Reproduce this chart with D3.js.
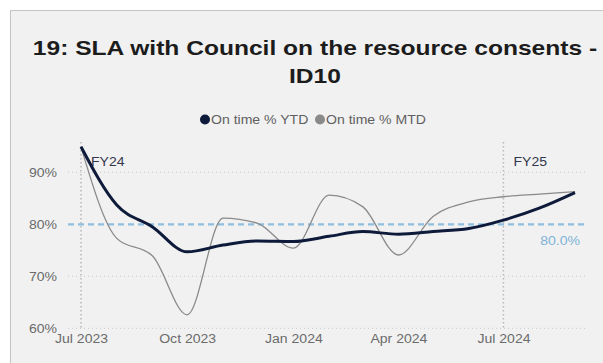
<!DOCTYPE html>
<html>
<head>
<meta charset="utf-8">
<script src="https://cdn.jsdelivr.net/npm/d3@7"></script>
<style>
  html, body { margin: 0; padding: 0; background: #ffffff; }
  svg { display: block; font-family: "Liberation Sans", Arial, sans-serif; }
</style>
</head>
<body>
<svg id="chart" width="603" height="363"></svg>
<script>
// Monthly observations, Jul 2023 – Sep 2024
const months = ["2023-07","2023-08","2023-09","2023-10","2023-11","2023-12",
                "2024-01","2024-02","2024-03","2024-04","2024-05","2024-06",
                "2024-07","2024-08","2024-09"];
const ytd = [94.9, 83.7, 79.5, 74.7, 76.0, 76.8, 76.7, 77.7, 78.6, 78.1, 78.6, 79.2, 80.8, 83.1, 86.1];
const mtd = [94.9, 77.3, 73.9, 62.6, 81.2, 80.2, 75.4, 85.6, 83.4, 74.1, 81.5, 84.3, 85.3, 85.8, 86.3];
const target = 80;
const yTicks = [60, 70, 80, 90];
const xTickLabels = ["2023-07","2023-10","2024-01","2024-04","2024-07"];
const fyMarkers = [{ date: "2023-07", label: "FY24" }, { date: "2024-07", label: "FY25" }];
const seriesNames = ["On time % YTD", "On time % MTD"];
const seriesColors = ["#0e1a3a", "#8a8a8a"];

const parse = d3.timeParse("%Y-%m");
const svg = d3.select("#chart");
const WIDEN = 1.17;

// Widen text horizontally, keeping its anchor point
function widen(sel) {
  sel.each(function () {
    const len = this.getComputedTextLength();
    d3.select(this).attr("textLength", len * WIDEN).attr("lengthAdjust", "spacingAndGlyphs");
  });
  return sel;
}

// Panel
svg.append("rect").attr("x", 10.5).attr("y", 10.5).attr("width", 620).attr("height", 400)
  .attr("fill", "#f1f1f1").attr("stroke", "#c4c4c4").attr("stroke-width", 1);

// Title
const titleLines = ["19: SLA with Council on the resource consents -", "ID10"];
const titleY = [55, 83];
titleLines.forEach((t, i) => {
  svg.append("text").attr("class", "title").attr("text-anchor", "middle")
    .attr("x", 315).attr("y", titleY[i])
    .attr("font-weight", "bold").attr("font-size", 21).attr("fill", "#1c1c1c").text(t);
});
widen(svg.selectAll("text.title"));

// Legend
const legend = svg.append("g").attr("font-size", 12).attr("fill", "#5f5f5f");
const legendX = [205, 320];
seriesNames.forEach((name, i) => {
  legend.append("circle").attr("cx", legendX[i]).attr("cy", 119.5).attr("r", 5).attr("fill", seriesColors[i]);
  legend.append("text").attr("x", legendX[i] + 6).attr("y", 124).text(name);
});
widen(legend.selectAll("text"));

// Scales
const x = d3.scaleTime()
  .domain([parse(months[0]), parse(months[months.length - 1])])
  .range([81, 575]);
const y = d3.scaleLinear().domain([60, 90]).range([328.3, 172.3]);

// Gridlines
const grid = svg.append("g");
yTicks.filter(t => t !== target).forEach(t => {
  grid.append("line").attr("x1", 68).attr("x2", 585).attr("y1", y(t)).attr("y2", y(t))
    .attr("stroke", "#c8c8c8").attr("stroke-width", 1).attr("stroke-dasharray", "1,3");
});

// Fiscal year markers
fyMarkers.forEach(m => {
  const xm = x(parse(m.date));
  svg.append("line").attr("x1", xm).attr("x2", xm).attr("y1", 142).attr("y2", 328)
    .attr("stroke", "#b8b8b8").attr("stroke-width", 1.5).attr("stroke-dasharray", "1.5,2.5");
  svg.append("text").attr("class", "fy").attr("x", xm + 10).attr("y", 166).attr("font-size", 12)
    .attr("fill", "#34384c").text(m.label);
});
widen(svg.selectAll("text.fy"));

// Y axis labels
const yAxis = d3.axisLeft(y).tickValues(yTicks).tickFormat(d => d + "%").tickSize(0).tickPadding(0);
const gy = svg.append("g").attr("transform", "translate(57,0)").call(yAxis);
gy.select(".domain").remove();
gy.selectAll("text").attr("font-size", 12).attr("fill", "#6b6b6b")
  .attr("font-family", "Liberation Sans, Arial, sans-serif");
widen(gy.selectAll("text"));

// X axis labels
const xAxis = d3.axisBottom(x).tickValues(xTickLabels.map(parse))
  .tickFormat(d3.timeFormat("%b %Y")).tickSize(0).tickPadding(0);
const gx = svg.append("g").attr("transform", "translate(0,334)").call(xAxis);
gx.select(".domain").remove();
gx.selectAll("text").attr("font-size", 12).attr("fill", "#6b6b6b")
  .attr("font-family", "Liberation Sans, Arial, sans-serif");
widen(gx.selectAll("text"));

// Target line
svg.append("line").attr("x1", 68).attr("x2", 584).attr("y1", y(target)).attr("y2", y(target))
  .attr("stroke", "#8fbfdf").attr("stroke-width", 2.2).attr("stroke-dasharray", "6,4");
widen(svg.append("text").attr("x", 580).attr("y", 245).attr("text-anchor", "end")
  .attr("font-size", 12).attr("fill", "#7fb3d8").text(d3.format(".1f")(target) + "%"));

// Series lines
const line = d3.line().curve(d3.curveMonotoneX)
  .x((d, i) => x(parse(months[i]))).y(d => y(d));
svg.append("path").datum(mtd).attr("d", line).attr("fill", "none")
  .attr("stroke", seriesColors[1]).attr("stroke-width", 1.3);
svg.append("path").datum(ytd).attr("d", line).attr("fill", "none")
  .attr("stroke", seriesColors[0]).attr("stroke-width", 3);
</script>
</body>
</html>
